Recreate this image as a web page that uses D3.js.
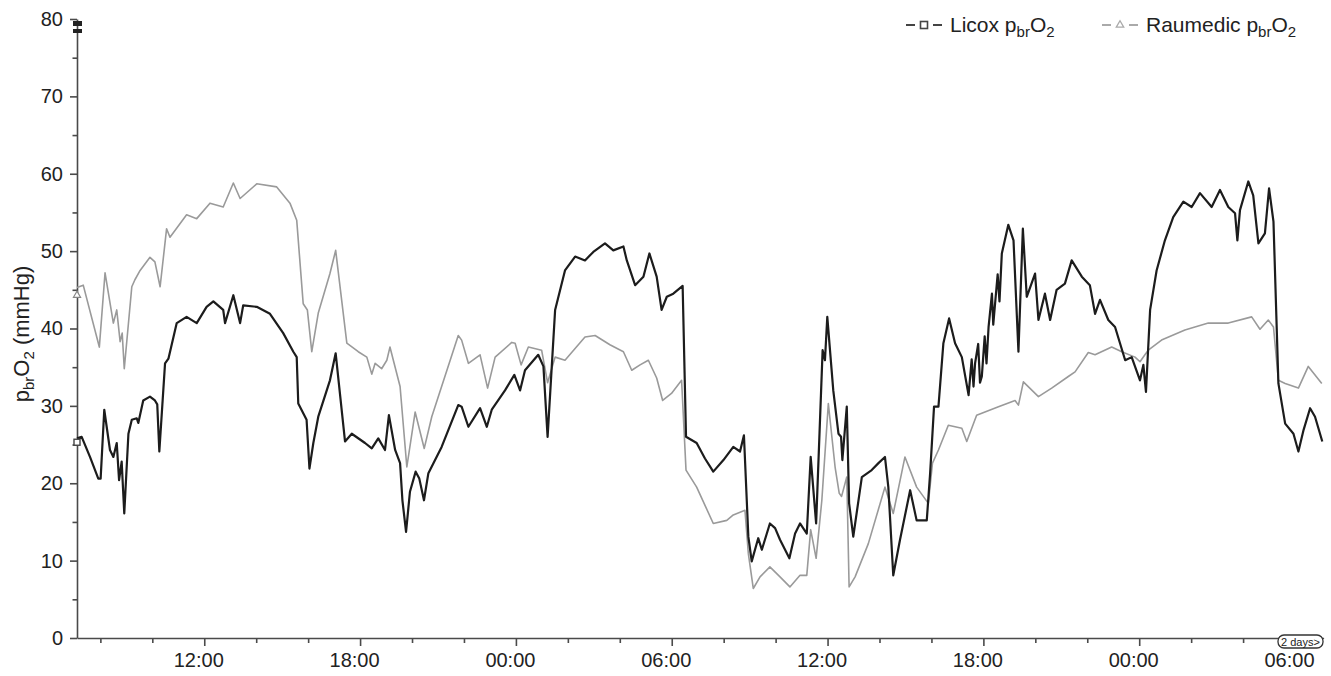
<!DOCTYPE html>
<html>
<head>
<meta charset="utf-8">
<script src="https://cdn.jsdelivr.net/npm/d3@7"></script>
<style>
  body { margin: 0; background: #fff; }
  svg { display: block; font-family: "Liberation Sans", Arial, sans-serif; }
</style>
</head>
<body>
<div class="canvas"></div>
<script>
// hours counted from midnight of the first day
const licoxTime = [7.10, 7.28, 7.60, 7.92, 8.01, 8.15, 8.37, 8.50, 8.63, 8.72, 8.82, 8.92, 9.08, 9.21, 9.40, 9.46, 9.65, 9.91, 10.10, 10.19,
  10.27, 10.49, 10.62, 10.94, 11.32, 11.71, 12.09, 12.35, 12.73, 12.80, 13.12, 13.38, 13.50, 14.02, 14.53, 15.04, 15.43, 15.56, 15.62, 15.94,
  16.05, 16.20, 16.39, 16.84, 17.06, 17.42, 17.68, 18.19, 18.45, 18.70, 18.96, 19.11, 19.35, 19.54, 19.63, 19.77, 19.92, 20.14, 20.28, 20.46,
  20.63, 21.14, 21.78, 21.91, 22.17, 22.62, 22.88, 23.07, 23.58, 23.94, 24.16, 24.35, 24.86, 25.06, 25.22, 25.51, 25.89, 26.28, 26.66, 26.98,
  27.43, 27.75, 28.14, 28.27, 28.59, 28.91, 29.14, 29.42, 29.61, 29.81, 30.06, 30.42, 30.55, 30.96, 31.28, 31.60, 31.99, 32.37, 32.63, 32.78,
  32.95, 33.08, 33.33, 33.47, 33.78, 33.98, 34.17, 34.53, 34.75, 34.94, 35.20, 35.35, 35.56, 35.81, 35.90, 35.99, 36.22, 36.42, 36.52, 36.57,
  36.74, 36.83, 36.99, 37.32, 37.70, 37.96, 38.21, 38.34, 38.53, 38.79, 39.18, 39.43, 39.82, 39.95, 40.10, 40.27, 40.46, 40.68, 40.91, 41.17,
  41.43, 41.55, 41.62, 41.68, 41.80, 41.87, 41.94, 42.05, 42.12, 42.20, 42.33, 42.38, 42.45, 42.55, 42.62, 42.71,
  42.96, 43.16, 43.35, 43.52, 43.67, 43.99, 44.12, 44.37, 44.57, 44.82, 45.14, 45.40, 45.79, 46.10,
  46.30, 46.49, 46.81, 47.07, 47.46, 47.71, 48.03, 48.16, 48.26, 48.42, 48.67, 48.99, 49.31, 49.70, 50.02, 50.34, 50.79, 51.11, 51.43, 51.69,
  51.78, 51.88, 52.20, 52.39, 52.59, 52.84, 53.00, 53.17, 53.36, 53.62, 53.94, 54.13, 54.33, 54.58, 54.77, 55.05];
const licoxPO2 = [25.8, 26.0, 23.4, 20.6, 20.6, 29.5, 24.3, 23.4, 25.2, 20.4, 22.8, 16.1, 26.4, 28.2, 28.4, 27.8, 30.7, 31.2, 30.7, 30.2,
  24.1, 35.5, 36.1, 40.7, 41.5, 40.7, 42.8, 43.5, 42.4, 40.7, 44.3, 40.7, 43.0, 42.8, 41.9, 39.4, 37.0, 36.3, 30.3, 28.2,
  21.9, 25.2, 28.6, 33.3, 36.8, 25.4, 26.4, 25.2, 24.5, 25.8, 24.3, 28.8, 24.3, 22.6, 17.8, 13.7, 18.9, 21.5, 20.6, 17.8,
  21.3, 24.7, 30.1, 29.9, 27.3, 29.7, 27.3, 29.5, 32.0, 34.0, 32.0, 34.6, 36.6, 35.1, 26.0, 42.4, 47.5, 49.3, 48.8, 49.9,
  51.0, 50.1, 50.6, 48.8, 45.6, 46.7, 49.7, 46.7, 42.4, 44.1, 44.5, 45.5, 26.0, 25.2, 23.2, 21.5, 23.0, 24.7, 24.1, 26.2,
  13.1, 9.9, 12.9, 11.4, 14.8, 14.2, 12.7, 10.3, 13.5, 14.8, 13.5, 23.4, 14.8, 37.2, 35.9, 41.5, 32.0, 26.4, 26.0, 23.0,
  29.9, 17.4, 13.1, 20.8, 21.7, 22.6, 23.4, 19.5, 8.1, 12.7, 19.1, 15.2, 15.2, 21.3, 29.9, 29.9, 38.1, 41.3, 38.1, 36.3,
  31.4, 36.0, 32.5, 35.5, 38.0, 33.0, 33.8, 39.0, 35.5, 40.2, 44.5, 40.5, 43.2, 47.0, 43.5, 49.7,
  53.4, 51.4, 37.0, 52.9, 44.1, 47.1, 41.1, 44.5, 41.1, 45.0, 45.8, 48.8, 46.7, 45.6,
  41.9, 43.7, 41.1, 40.2, 35.9, 36.3, 33.3, 35.3, 31.8, 42.4, 47.5, 51.4, 54.4, 56.4, 55.7, 57.5, 55.7, 57.9, 55.7, 54.9,
  51.4, 55.3, 59.0, 57.2, 51.0, 52.3, 58.1, 53.8, 32.9, 27.7, 26.4, 24.1, 26.9, 29.7, 28.6, 25.4];

const raumedicTime = [7.10, 7.34, 7.96, 8.18, 8.50, 8.63, 8.76, 8.84, 8.92, 9.21, 9.33, 9.53, 9.91, 10.10, 10.30, 10.55, 10.68, 11.32, 11.71, 12.22,
  12.73, 13.12, 13.38, 14.02, 14.79, 15.30, 15.56, 15.81, 15.97, 16.14, 16.39, 16.84, 17.06, 17.49, 17.93, 18.26, 18.45, 18.58, 18.83, 19.03,
  19.15, 19.54, 19.80, 20.12, 20.47, 20.76, 21.78, 21.91, 22.17, 22.62, 22.91, 23.20, 23.84, 23.97, 24.20, 24.48, 24.99, 25.22, 25.51, 25.89,
  26.66, 27.05, 27.62, 28.14, 28.46, 28.78, 29.10, 29.42, 29.65, 29.99, 30.38, 30.55, 30.96, 31.60, 32.12, 32.37, 32.82, 32.95, 33.14, 33.40,
  33.78, 34.17, 34.55, 34.94, 35.20, 35.35, 35.56, 35.78, 36.03, 36.29, 36.45, 36.54, 36.74, 36.83, 37.06, 37.57, 38.21, 38.53, 38.98, 39.43,
  39.88, 40.04, 40.27, 40.65, 41.17, 41.36, 41.74, 42.58, 43.22, 43.35, 43.54, 44.12, 44.63, 45.27, 45.53, 46.04, 46.30, 46.94, 47.33, 47.84,
  48.03, 48.22, 48.35, 48.86, 49.76, 50.66, 51.43, 52.33, 52.65, 52.97, 53.17, 53.36, 53.62, 54.13, 54.51, 55.03];
const raumedicPO2 = [45.3, 45.6, 37.6, 47.2, 40.7, 42.4, 38.3, 39.4, 34.8, 45.4, 46.3, 47.5, 49.2, 48.6, 45.4, 52.9, 51.8, 54.7, 54.2, 56.2,
  55.7, 58.8, 56.8, 58.7, 58.3, 56.2, 54.0, 43.2, 42.4, 37.0, 42.0, 47.1, 50.1, 38.1, 37.0, 36.3, 34.1, 35.5, 34.8, 35.9,
  37.6, 32.5, 22.1, 29.2, 24.5, 28.6, 39.1, 38.5, 35.5, 36.6, 32.3, 36.3, 38.2, 38.1, 35.3, 37.6, 37.2, 33.0, 36.3, 35.9,
  38.9, 39.1, 37.9, 37.0, 34.6, 35.3, 35.9, 33.6, 30.7, 31.6, 33.3, 21.7, 19.5, 14.8, 15.2, 15.9, 16.5, 10.9, 6.4, 7.9,
  9.2, 7.9, 6.6, 8.1, 8.1, 14.0, 10.3, 17.8, 30.3, 22.1, 18.7, 18.3, 20.8, 6.6, 7.9, 12.2, 19.5, 16.1, 23.4, 19.5,
  17.4, 22.6, 24.3, 27.5, 27.1, 25.4, 28.8, 29.9, 30.7, 30.1, 33.1, 31.2, 32.3, 33.8, 34.4, 36.9, 36.6, 37.6, 37.0, 36.3,
  35.7, 36.6, 37.2, 38.5, 39.8, 40.7, 40.7, 41.5, 39.9, 41.1, 40.2, 33.3, 32.9, 32.3, 35.1, 32.9];

const xMajorTicks = [12, 18, 24, 30, 36, 42, 48, 54];
const xMinorTicks = [8, 10, 14, 16, 20, 22, 26, 28, 32, 34, 38, 40, 44, 46, 50, 52];
const yMajorTicks = [0, 10, 20, 30, 40, 50, 60, 70, 80];
const yMinorTicks = [5, 15, 25, 35, 45, 55, 65, 75];

const width = 1331, height = 676;
const margin = { top: 19, left: 77, right: 7.4, bottom: 38 };

const svg = d3.select('.canvas')
  .append('svg')
  .attr('width', width)
  .attr('height', height);

const x = d3.scaleLinear()
  .domain([7.1, 55.1])
  .range([margin.left, width - margin.right]);

const y = d3.scaleLinear()
  .domain([0, 80])
  .range([height - margin.bottom, margin.top]);

const axisColor = '#4a4a4a';

// axes
const fmtHour = h => String(h % 24).padStart(2, '0') + ':00';

const xAxisG = svg.append('g')
  .attr('transform', `translate(0, ${y(0)})`)
  .call(d3.axisBottom(x).tickValues(xMajorTicks).tickFormat(fmtHour).tickSize(8).tickPadding(7).tickSizeOuter(0));

svg.append('g')
  .attr('transform', `translate(0, ${y(0)})`)
  .call(d3.axisBottom(x).tickValues(xMinorTicks).tickFormat('').tickSize(5).tickSizeOuter(0))
  .call(g => g.select('.domain').remove());

const yAxisG = svg.append('g')
  .attr('transform', `translate(${x(7.1)}, 0)`)
  .call(d3.axisLeft(y).tickValues(yMajorTicks).tickSize(7).tickPadding(7).tickSizeOuter(0));

svg.append('g')
  .attr('transform', `translate(${x(7.1)}, 0)`)
  .call(d3.axisLeft(y).tickValues(yMinorTicks).tickFormat('').tickSize(4.5).tickSizeOuter(0))
  .call(g => g.select('.domain').remove());

svg.selectAll('.domain, .tick line')
  .attr('stroke', axisColor)
  .attr('stroke-width', 1.6);

svg.selectAll('.tick text')
  .attr('fill', '#222')
  .style('font-size', '20px')
  .style('font-family', '"Liberation Sans", Arial, sans-serif');

xAxisG.selectAll('.tick text').attr('dx', -6);

// little stacked markers at the top of the y axis
svg.append('rect').attr('x', x(7.1) - 4).attr('y', 21).attr('width', 9).attr('height', 5).attr('fill', '#222');
svg.append('rect').attr('x', x(7.1) - 4).attr('y', 29).attr('width', 9).attr('height', 4).attr('fill', '#222');

// lines
const line = d3.line()
  .x(d => x(d[0]))
  .y(d => y(d[1]));

const raumedicData = raumedicTime.map((t, i) => [t, raumedicPO2[i]]);
const licoxData = licoxTime.map((t, i) => [t, licoxPO2[i]]);

svg.append('path')
  .datum(raumedicData)
  .attr('fill', 'none')
  .attr('stroke', '#9a9a9a')
  .attr('stroke-width', 1.6)
  .attr('stroke-linejoin', 'round')
  .attr('d', line);

svg.append('path')
  .datum(licoxData)
  .attr('fill', 'none')
  .attr('stroke', '#1c1c1c')
  .attr('stroke-width', 2.2)
  .attr('stroke-linejoin', 'round')
  .attr('d', line);

// start markers
svg.append('rect')
  .attr('x', x(licoxTime[0]) - 3).attr('y', y(25.3) - 3)
  .attr('width', 6).attr('height', 6)
  .attr('fill', '#fff').attr('stroke', '#444').attr('stroke-width', 1.4);

svg.append('path')
  .attr('d', d3.symbol(d3.symbolTriangle, 22)())
  .attr('transform', `translate(${x(raumedicTime[0])}, ${y(44.3)})`)
  .attr('fill', '#fff').attr('stroke', '#888').attr('stroke-width', 1.2);

// y label
const yLabel = svg.append('text')
  .attr('transform', `translate(29, 334) rotate(-90)`)
  .attr('text-anchor', 'middle')
  .attr('fill', '#222')
  .style('font-size', '22px');
yLabel.append('tspan').text('p');
yLabel.append('tspan').attr('dy', 5).style('font-size', '15px').text('br');
yLabel.append('tspan').attr('dy', -5).text('O');
yLabel.append('tspan').attr('dy', 5).style('font-size', '15px').text('2');
yLabel.append('tspan').attr('dy', -5).text(' (mmHg)');

// legend
const legendItems = [
  { name: 'Licox', color: '#444', x: 906, symbol: 'square' },
  { name: 'Raumedic', color: '#aaa', x: 1102, symbol: 'triangle' }
];

legendItems.forEach(item => {
  const g = svg.append('g').attr('transform', `translate(${item.x}, 25)`);
  g.append('line').attr('x1', 0).attr('x2', 9).attr('stroke', item.color).attr('stroke-width', 2);
  g.append('line').attr('x1', 27).attr('x2', 36).attr('stroke', item.color).attr('stroke-width', 2);
  if (item.symbol === 'square') {
    g.append('rect').attr('x', 14.5).attr('y', -3.5).attr('width', 7).attr('height', 7)
      .attr('fill', '#fff').attr('stroke', item.color).attr('stroke-width', 1.6);
  } else {
    g.append('path').attr('d', d3.symbol(d3.symbolTriangle, 24)())
      .attr('transform', 'translate(18, 0)')
      .attr('fill', '#fff').attr('stroke', item.color).attr('stroke-width', 1.3);
  }
  const t = g.append('text')
    .attr('x', 44).attr('y', 7)
    .attr('fill', '#222')
    .style('font-size', '21px');
  t.append('tspan').text(item.name + ' p');
  t.append('tspan').attr('dy', 5).style('font-size', '15px').text('br');
  t.append('tspan').attr('dy', -5).text('O');
  t.append('tspan').attr('dy', 5).style('font-size', '15px').text('2');
});

// "2 days>" badge at the end of the time axis
const badge = svg.append('g').attr('transform', `translate(1278, 635)`);
badge.append('rect')
  .attr('width', 45).attr('height', 13).attr('rx', 6)
  .attr('fill', '#fff').attr('stroke', '#333').attr('stroke-width', 1.3);
badge.append('text')
  .attr('x', 22.5).attr('y', 10.5)
  .attr('text-anchor', 'middle')
  .attr('fill', '#222')
  .style('font-size', '11px')
  .text('2 days>');
</script>
</body>
</html>
